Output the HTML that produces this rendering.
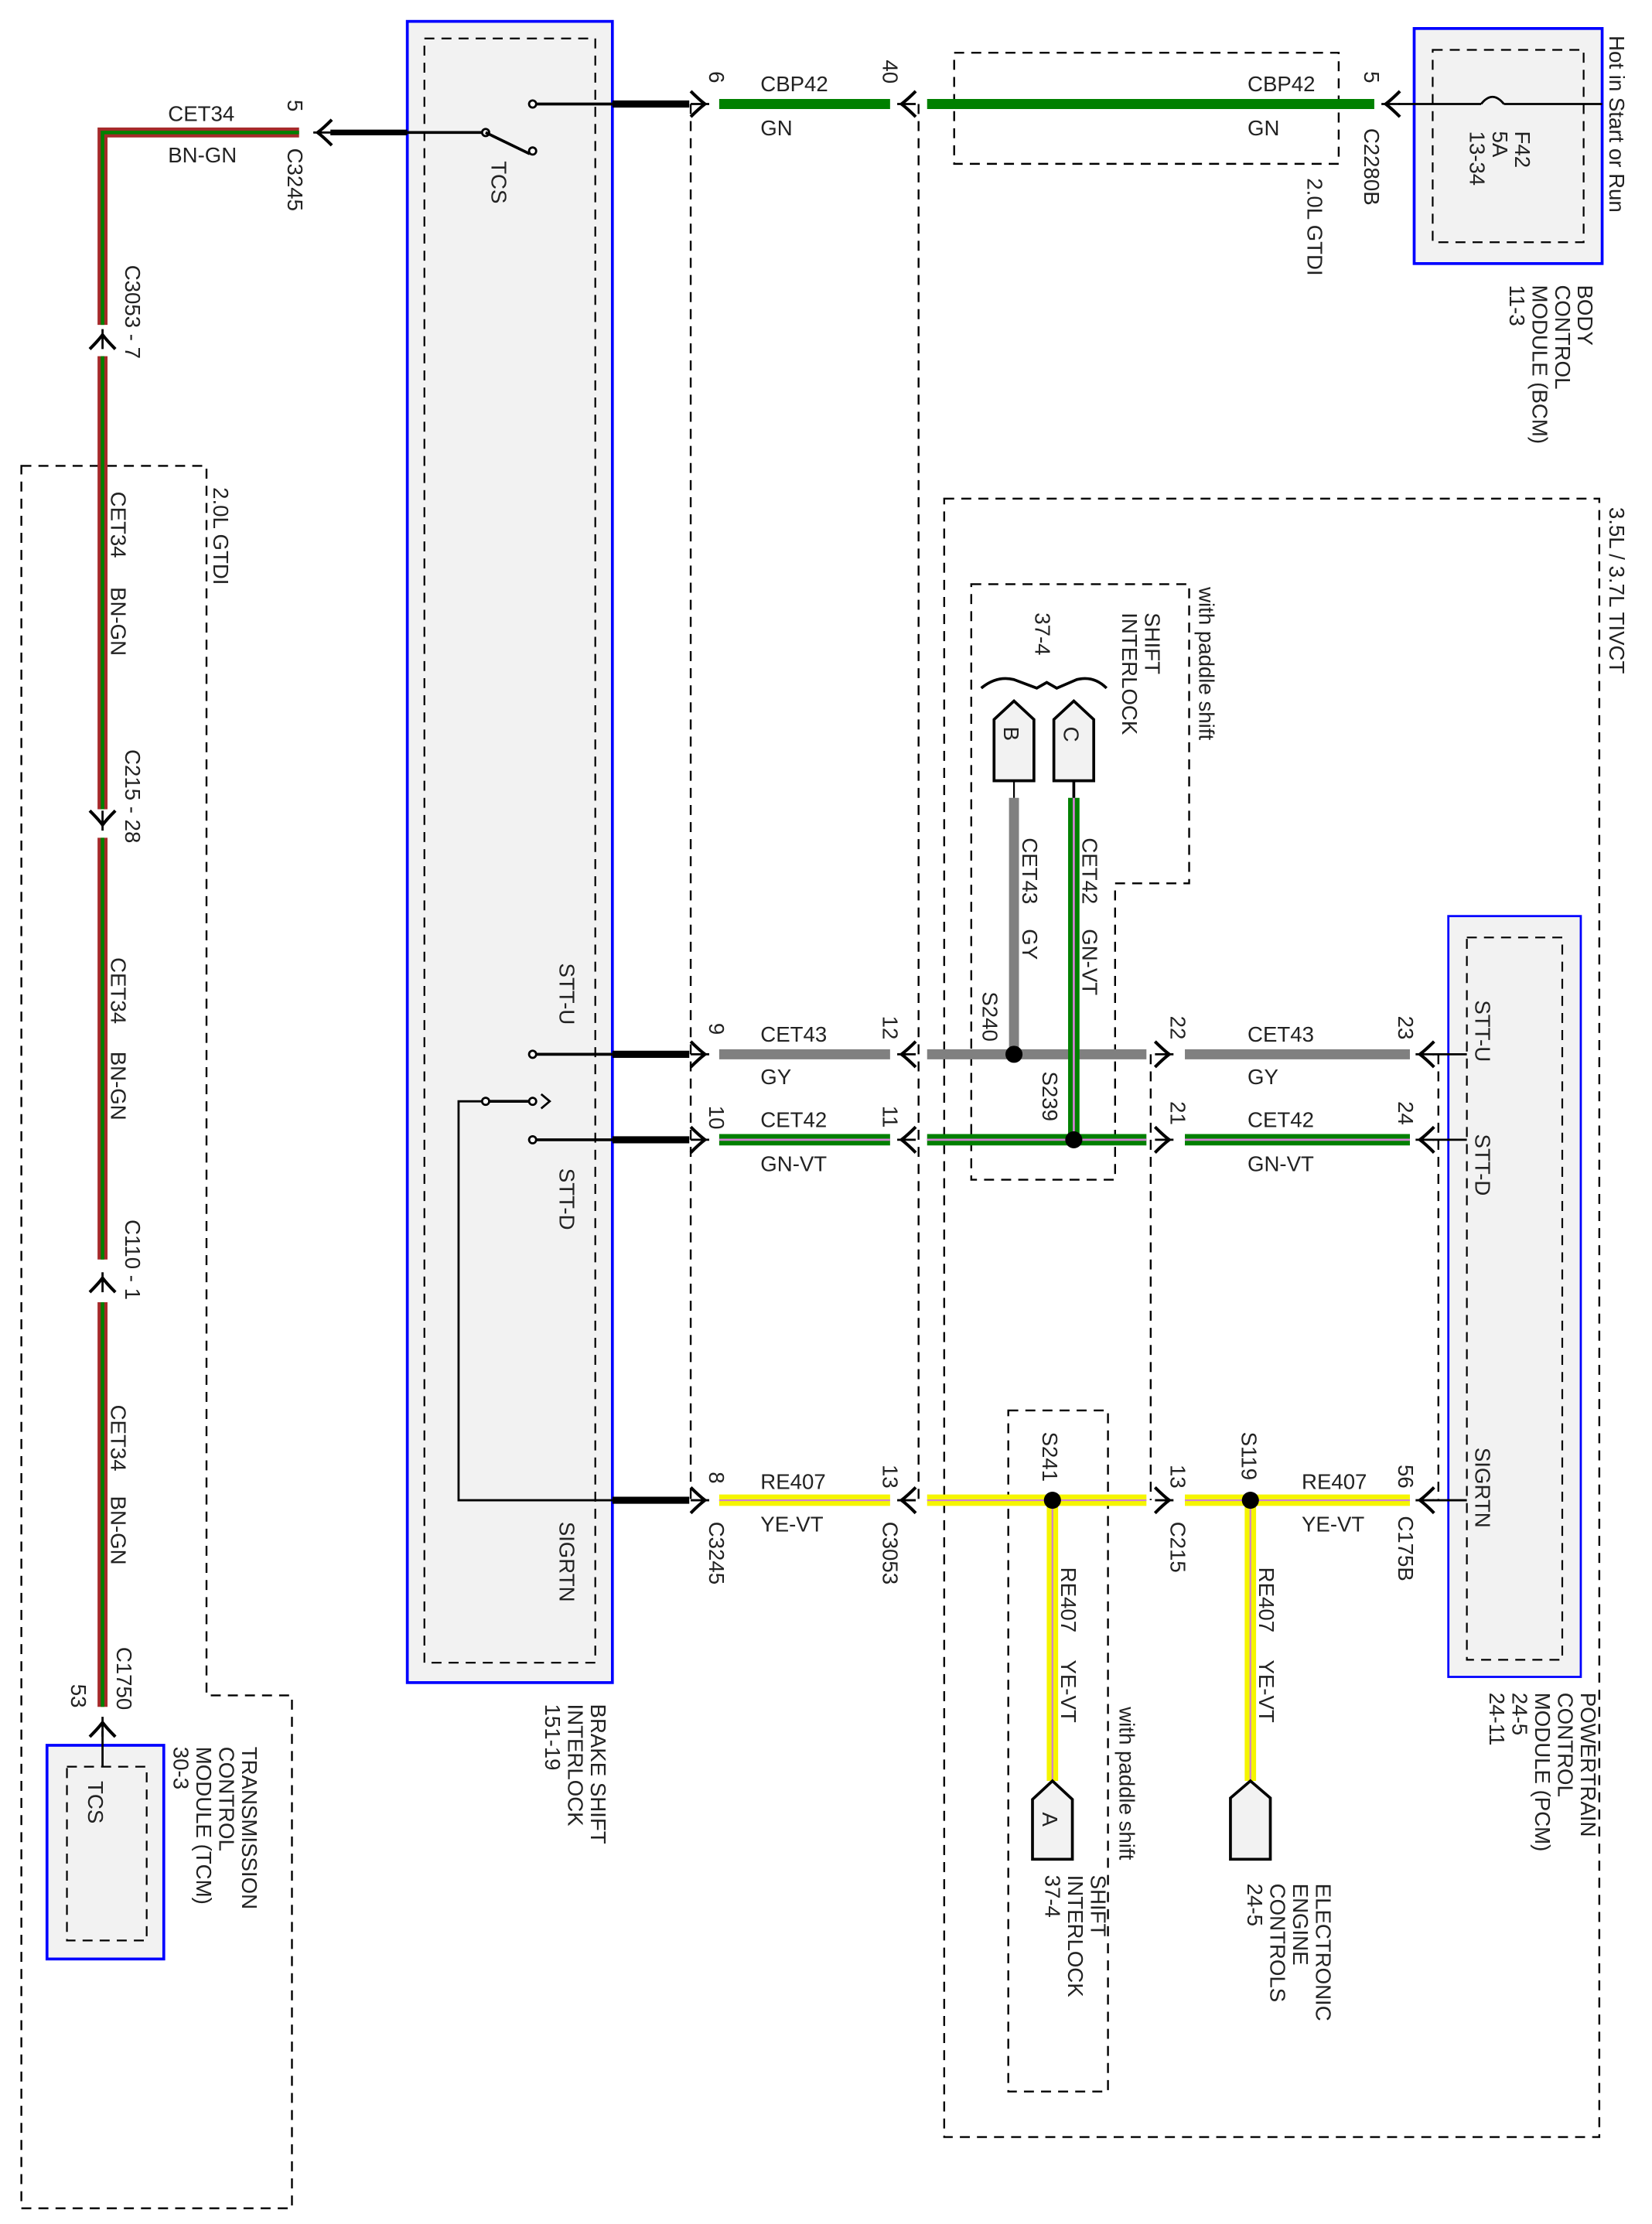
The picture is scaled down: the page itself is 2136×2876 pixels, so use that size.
<!DOCTYPE html>
<html><head><meta charset="utf-8"><style>
html,body{margin:0;padding:0;background:#fff}
svg{display:block}
text{font-family:"Liberation Sans",sans-serif;font-size:15px;fill:#222}
</style></head><body>
<svg width="2136" height="2876" viewBox="0 0 1160 1561" preserveAspectRatio="none" xmlns="http://www.w3.org/2000/svg">
<defs>
<g id="chr"><path d="M-7,-9 Q-1,-3 3,0 Q-1,3 -7,9" fill="none" stroke="#000" stroke-width="2.2"/><line x1="-7" y1="0" x2="6" y2="0" stroke="#000" stroke-width="1.5"/></g>
<g id="chl"><path d="M7,-9 Q1,-3 -3,0 Q1,3 7,9" fill="none" stroke="#000" stroke-width="2.2"/><line x1="-6" y1="0" x2="7" y2="0" stroke="#000" stroke-width="1.5"/></g>
<g id="chu"><path d="M-9,7 Q-3,1 0,-3 Q3,1 9,7" fill="none" stroke="#000" stroke-width="2.2"/><line x1="0" y1="-7" x2="0" y2="7" stroke="#000" stroke-width="1.5"/></g>
<g id="chd"><path d="M-9,-7 Q-3,-1 0,3 Q3,-1 9,-7" fill="none" stroke="#000" stroke-width="2.2"/><line x1="0" y1="-7" x2="0" y2="7" stroke="#000" stroke-width="1.5"/></g>
</defs>
<g fill="none" stroke="#000" stroke-width="1.3" stroke-dasharray="7,5">
<path d="M15,327 H145 V1190 H205 V1550 H15 Z"/>
<path d="M663,350 H1123 V1500 H663 Z"/>
<path d="M670,37 H940 V115 H670 Z"/>
<path d="M682,410 H835 V620 H783 V828 H682 Z"/>
<path d="M708,990 H778 V1468 H708 Z"/>
<line x1="485" y1="73" x2="485" y2="1053"/>
<line x1="645" y1="73" x2="645" y2="1053"/>
<line x1="808" y1="740" x2="808" y2="1053"/>
<line x1="1010" y1="740" x2="1010" y2="1053"/>
</g>
<rect x="286" y="15" width="144" height="1166" fill="#f2f2f2" stroke="#00f" stroke-width="2"/>
<rect x="298" y="27" width="120" height="1140" fill="none" stroke="#000" stroke-width="1.2" stroke-dasharray="7,5"/>
<rect x="993" y="20" width="132" height="165" fill="#f2f2f2" stroke="#00f" stroke-width="2"/>
<rect x="1006" y="35" width="106" height="135" fill="none" stroke="#000" stroke-width="1.2" stroke-dasharray="7,5"/>
<rect x="1017" y="643" width="93" height="534" fill="#f2f2f2" stroke="#00f" stroke-width="1.5"/>
<rect x="1030" y="658" width="67" height="507" fill="none" stroke="#000" stroke-width="1.2" stroke-dasharray="7,5"/>
<rect x="33" y="1225" width="82" height="150" fill="#f2f2f2" stroke="#00f" stroke-width="2"/>
<rect x="47" y="1240" width="56" height="122" fill="none" stroke="#000" stroke-width="1.2" stroke-dasharray="7,5"/>
<g fill="none" stroke-linejoin="miter">
<path d="M210,93 H72 V228" stroke="#a52a2a" stroke-width="7"/>
<path d="M210,93 H72 V228" stroke="#008000" stroke-width="2.5"/>
<path d="M72,250 V568" stroke="#a52a2a" stroke-width="7"/><path d="M72,250 V568" stroke="#008000" stroke-width="2.5"/>
<path d="M72,588 V884" stroke="#a52a2a" stroke-width="7"/><path d="M72,588 V884" stroke="#008000" stroke-width="2.5"/>
<path d="M72,914 V1198" stroke="#a52a2a" stroke-width="7"/><path d="M72,914 V1198" stroke="#008000" stroke-width="2.5"/>
</g>
<line x1="72" y1="1215" x2="72" y2="1240" stroke="#000" stroke-width="1.5"/>
<use href="#chu" x="72" y="238"/><use href="#chd" x="72" y="576"/><use href="#chu" x="72" y="900"/><use href="#chu" x="72" y="1212"/>
<use href="#chl" x="226" y="93"/>
<line x1="232" y1="93" x2="286" y2="93" stroke="#000" stroke-width="4"/>
<line x1="286" y1="93" x2="341" y2="93" stroke="#000" stroke-width="2"/>
<circle cx="341" cy="93" r="2.5" fill="#fff" stroke="#000" stroke-width="1.5"/>
<line x1="341" y1="93" x2="372" y2="108" stroke="#000" stroke-width="2"/>
<circle cx="374" cy="106" r="2.5" fill="#fff" stroke="#000" stroke-width="1.5"/>
<circle cx="374" cy="73" r="2.5" fill="#fff" stroke="#000" stroke-width="1.5"/>
<line x1="376" y1="73" x2="430" y2="73" stroke="#000" stroke-width="2"/>
<line x1="430" y1="73" x2="484" y2="73" stroke="#000" stroke-width="5"/>
<use href="#chr" x="492" y="73"/>
<line x1="505" y1="73" x2="625" y2="73" stroke="#008000" stroke-width="7"/>
<use href="#chl" x="636" y="73"/>
<line x1="651" y1="73" x2="965" y2="73" stroke="#008000" stroke-width="7"/>
<use href="#chl" x="976" y="73"/>
<line x1="982" y1="73" x2="1040" y2="73" stroke="#000" stroke-width="1.5"/>
<path d="M1040,73 Q1048,63 1056,73" fill="none" stroke="#000" stroke-width="1.5"/>
<line x1="1056" y1="73" x2="1125" y2="73" stroke="#000" stroke-width="1.5"/>
<circle cx="374" cy="740" r="2.5" fill="#fff" stroke="#000" stroke-width="1.5"/>
<circle cx="374" cy="800" r="2.5" fill="#fff" stroke="#000" stroke-width="1.5"/>
<line x1="376" y1="740" x2="430" y2="740" stroke="#000" stroke-width="2"/>
<line x1="376" y1="800" x2="430" y2="800" stroke="#000" stroke-width="2"/>
<line x1="430" y1="740" x2="484" y2="740" stroke="#000" stroke-width="5"/>
<line x1="430" y1="800" x2="484" y2="800" stroke="#000" stroke-width="5"/>
<line x1="430" y1="1053" x2="484" y2="1053" stroke="#000" stroke-width="5"/>
<path d="M430,1053 H322 V773 H341" fill="none" stroke="#000" stroke-width="1.5"/>
<circle cx="341" cy="773" r="2.5" fill="#fff" stroke="#000" stroke-width="1.5"/>
<line x1="343" y1="773" x2="372" y2="773" stroke="#000" stroke-width="2"/>
<circle cx="374" cy="773" r="2.5" fill="#fff" stroke="#000" stroke-width="1.5"/>
<path d="M380,768 L386,773 L380,778" fill="none" stroke="#000" stroke-width="1.5"/>
<g stroke="#808080" stroke-width="7">
<line x1="505" y1="740" x2="625" y2="740"/><line x1="651" y1="740" x2="805" y2="740"/><line x1="832" y1="740" x2="990" y2="740"/>
<line x1="712" y1="560" x2="712" y2="740"/>
</g>
<g>
<g stroke="#008000" stroke-width="8"><line x1="505" y1="800" x2="625" y2="800"/><line x1="651" y1="800" x2="805" y2="800"/><line x1="832" y1="800" x2="990" y2="800"/><line x1="754" y1="560" x2="754" y2="800"/></g>
<g stroke="#d080d0" stroke-width="1.5"><line x1="505" y1="800" x2="625" y2="800"/><line x1="651" y1="800" x2="805" y2="800"/><line x1="832" y1="800" x2="990" y2="800"/><line x1="754" y1="560" x2="754" y2="800"/></g>
</g>
<g>
<g stroke="#f5f500" stroke-width="8"><line x1="505" y1="1053" x2="625" y2="1053"/><line x1="651" y1="1053" x2="805" y2="1053"/><line x1="832" y1="1053" x2="990" y2="1053"/><line x1="739" y1="1053" x2="739" y2="1250"/><line x1="878" y1="1053" x2="878" y2="1250"/></g>
<g stroke="#d080d0" stroke-width="1.2"><line x1="505" y1="1053" x2="625" y2="1053"/><line x1="651" y1="1053" x2="805" y2="1053"/><line x1="832" y1="1053" x2="990" y2="1053"/><line x1="739" y1="1053" x2="739" y2="1250"/><line x1="878" y1="1053" x2="878" y2="1250"/></g>
</g>
<g>
<use href="#chr" x="492" y="740"/><use href="#chl" x="636" y="740"/><use href="#chr" x="818" y="740"/><use href="#chl" x="1000" y="740"/>
<use href="#chr" x="492" y="800"/><use href="#chl" x="636" y="800"/><use href="#chr" x="818" y="800"/><use href="#chl" x="1000" y="800"/>
<use href="#chr" x="492" y="1053"/><use href="#chl" x="636" y="1053"/><use href="#chr" x="818" y="1053"/><use href="#chl" x="1000" y="1053"/>
</g>
<g stroke="#000" stroke-width="1.5">
<line x1="1006" y1="740" x2="1030" y2="740"/><line x1="1006" y1="800" x2="1030" y2="800"/><line x1="1006" y1="1053" x2="1030" y2="1053"/>
</g>
<g fill="#000"><circle cx="712" cy="740" r="6"/><circle cx="754" cy="800" r="6"/><circle cx="739" cy="1053" r="6"/><circle cx="878" cy="1053" r="6"/></g>
<g fill="#f2f2f2" stroke="#000" stroke-width="2">
<path d="M698,548 V505 L712,492 L726,505 V548 Z"/>
<path d="M740,548 V505 L754,492 L768,505 V548 Z"/>
<path d="M864,1262 L878,1250 L892,1262 V1305 H864 Z"/>
<path d="M725,1263 L739,1250 L753,1263 V1305 H725 Z"/>
</g>
<line x1="712" y1="548" x2="712" y2="560" stroke="#000" stroke-width="1.2"/>
<line x1="754" y1="548" x2="754" y2="560" stroke="#000" stroke-width="2"/>
<path d="M689,483 Q700,474 712,477 L728,483 L735,479 L742,483 L756,477 Q768,474 777,483" fill="none" stroke="#000" stroke-width="2"/>
<text x="118" y="85">CET34</text><text x="118" y="114">BN-GN</text>
<text x="534" y="64">CBP42</text><text x="534" y="95">GN</text>
<text x="876" y="64">CBP42</text><text x="876" y="95">GN</text>
<text x="534" y="731">CET43</text><text x="534" y="761">GY</text>
<text x="876" y="731">CET43</text><text x="876" y="761">GY</text>
<text x="534" y="791">CET42</text><text x="534" y="822">GN-VT</text>
<text x="876" y="791">CET42</text><text x="876" y="822">GN-VT</text>
<text x="534" y="1045">RE407</text><text x="534" y="1075">YE-VT</text>
<text x="914" y="1045">RE407</text><text x="914" y="1075">YE-VT</text>
<g font-size="14">
<text transform="translate(202,70) rotate(90)">5</text>
<text transform="translate(202,104) rotate(90)">C3245</text>
<text transform="translate(345,113) rotate(90)">TCS</text>
<text transform="translate(88,186) rotate(90)">C3053 - 7</text>
<text transform="translate(150,342) rotate(90)">2.0L GTDI</text>
<text transform="translate(78,345) rotate(90)">CET34</text>
<text transform="translate(78,412) rotate(90)">BN-GN</text>
<text transform="translate(88,526) rotate(90)">C215 - 28</text>
<text transform="translate(78,672) rotate(90)">CET34</text>
<text transform="translate(78,738) rotate(90)">BN-GN</text>
<text transform="translate(88,856) rotate(90)">C110 - 1</text>
<text transform="translate(78,986) rotate(90)">CET34</text>
<text transform="translate(78,1050) rotate(90)">BN-GN</text>
<text transform="translate(82,1156) rotate(90)">C1750</text>
<text transform="translate(50,1182) rotate(90)">53</text>
<text transform="translate(62,1250) rotate(90)">TCS</text>
<text transform="translate(170,1226) rotate(90)">TRANSMISSION</text>
<text transform="translate(154,1226) rotate(90)">CONTROL</text>
<text transform="translate(138,1226) rotate(90)">MODULE (TCM)</text>
<text transform="translate(122,1226) rotate(90)">30-3</text>
<text transform="translate(415,1196) rotate(90)">BRAKE SHIFT</text>
<text transform="translate(399,1196) rotate(90)">INTERLOCK</text>
<text transform="translate(383,1196) rotate(90)">151-19</text>
<text transform="translate(393,676) rotate(90)">STT-U</text>
<text transform="translate(393,820) rotate(90)">STT-D</text>
<text transform="translate(393,1068) rotate(90)">SIGRTN</text>
<text transform="translate(498,50) rotate(90)">6</text>
<text transform="translate(620,42) rotate(90)">40</text>
<text transform="translate(958,50) rotate(90)">5</text>
<text transform="translate(958,90) rotate(90)">C2280B</text>
<text transform="translate(918,125) rotate(90)">2.0L GTDI</text>
<text transform="translate(1064,92) rotate(90)">F42</text>
<text transform="translate(1048,92) rotate(90)">5A</text>
<text transform="translate(1032,92) rotate(90)">13-34</text>
<text transform="translate(1130,25) rotate(90)">Hot in Start or Run</text>
<text transform="translate(1108,200) rotate(90)">BODY</text>
<text transform="translate(1092,200) rotate(90)">CONTROL</text>
<text transform="translate(1076,200) rotate(90)">MODULE (BCM)</text>
<text transform="translate(1060,200) rotate(90)">11-3</text>
<text transform="translate(1130,356) rotate(90)">3.5L / 3.7L TIVCT</text>
<text transform="translate(842,412) rotate(90)">with paddle shift</text>
<text transform="translate(804,430) rotate(90)">SHIFT</text>
<text transform="translate(788,430) rotate(90)">INTERLOCK</text>
<text transform="translate(727,430) rotate(90)">37-4</text>
<text transform="translate(705,510) rotate(90)">B</text>
<text transform="translate(747,510) rotate(90)">C</text>
<text transform="translate(760,588) rotate(90)">CET42</text>
<text transform="translate(760,652) rotate(90)">GN-VT</text>
<text transform="translate(718,588) rotate(90)">CET43</text>
<text transform="translate(718,652) rotate(90)">GY</text>
<text transform="translate(690,696) rotate(90)">S240</text>
<text transform="translate(732,752) rotate(90)">S239</text>
<text transform="translate(498,718) rotate(90)">9</text>
<text transform="translate(620,713) rotate(90)">12</text>
<text transform="translate(822,713) rotate(90)">22</text>
<text transform="translate(982,713) rotate(90)">23</text>
<text transform="translate(498,776) rotate(90)">10</text>
<text transform="translate(620,776) rotate(90)">11</text>
<text transform="translate(822,773) rotate(90)">21</text>
<text transform="translate(982,773) rotate(90)">24</text>
<text transform="translate(1036,702) rotate(90)">STT-U</text>
<text transform="translate(1036,796) rotate(90)">STT-D</text>
<text transform="translate(1036,1016) rotate(90)">SIGRTN</text>
<text transform="translate(498,1033) rotate(90)">8</text>
<text transform="translate(620,1028) rotate(90)">13</text>
<text transform="translate(822,1028) rotate(90)">13</text>
<text transform="translate(982,1028) rotate(90)">56</text>
<text transform="translate(498,1068) rotate(90)">C3245</text>
<text transform="translate(620,1068) rotate(90)">C3053</text>
<text transform="translate(822,1068) rotate(90)">C215</text>
<text transform="translate(982,1064) rotate(90)">C175B</text>
<text transform="translate(732,1005) rotate(90)">S241</text>
<text transform="translate(872,1005) rotate(90)">S119</text>
<text transform="translate(745,1100) rotate(90)">RE407</text>
<text transform="translate(745,1165) rotate(90)">YE-VT</text>
<text transform="translate(884,1100) rotate(90)">RE407</text>
<text transform="translate(884,1165) rotate(90)">YE-VT</text>
<text transform="translate(732,1272) rotate(90)">A</text>
<text transform="translate(786,1198) rotate(90)">with paddle shift</text>
<text transform="translate(766,1316) rotate(90)">SHIFT</text>
<text transform="translate(750,1316) rotate(90)">INTERLOCK</text>
<text transform="translate(734,1316) rotate(90)">37-4</text>
<text transform="translate(924,1322) rotate(90)">ELECTRONIC</text>
<text transform="translate(908,1322) rotate(90)">ENGINE</text>
<text transform="translate(892,1322) rotate(90)">CONTROLS</text>
<text transform="translate(876,1322) rotate(90)">24-5</text>
<text transform="translate(1110,1188) rotate(90)">POWERTRAIN</text>
<text transform="translate(1094,1188) rotate(90)">CONTROL</text>
<text transform="translate(1078,1188) rotate(90)">MODULE (PCM)</text>
<text transform="translate(1062,1188) rotate(90)">24-5</text>
<text transform="translate(1046,1188) rotate(90)">24-11</text>
</g>
</svg>
</body></html>
